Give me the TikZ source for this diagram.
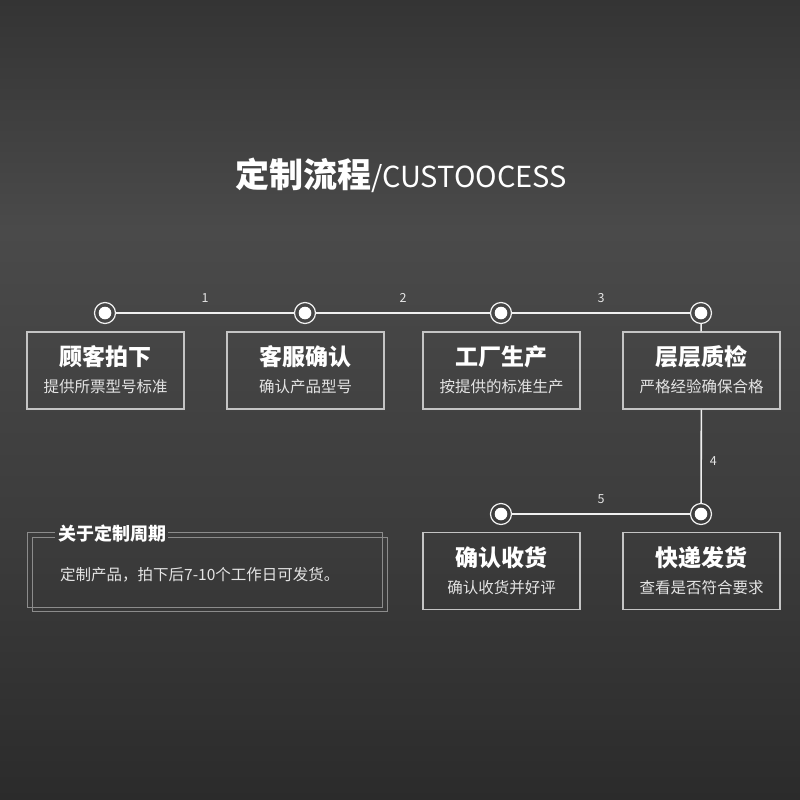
\documentclass[tikz,border=0pt]{standalone}
\usepackage{fontspec}
\setmainfont{Noto Sans CJK SC}
\usetikzlibrary{positioning}

\definecolor{bgtop}{HTML}{343434}
\definecolor{bgmid}{HTML}{4A4A4A}
\definecolor{bglow}{HTML}{3B3B3B}
\definecolor{bgbot}{HTML}{2B2B2B}
\definecolor{boxline}{HTML}{C4C4C4}
\definecolor{noteclr}{HTML}{E4E4E4}
\definecolor{frameclr}{HTML}{8C8C8C}

\begin{document}
\begin{tikzpicture}[x=1pt, y=-1pt, every node/.style={text=white, inner sep=0pt},
	flow/.style={draw=white!94!black, line width=1.6pt},
	dot/.style={circle, draw=white!94!black, line width=1.2pt, minimum size=21pt,
		path picture={\fill[white] (path picture bounding box.center) circle (6.3pt);}},
	stepbox/.style={draw=boxline, line width=1.2pt, minimum width=157pt, minimum height=77pt},
	steptitle/.style={font=\bfseries\fontsize{23}{23}\selectfont},
	stepnote/.style={font=\fontsize{15.5}{15.5}\selectfont, text=noteclr},
	numlabel/.style={font=\fontsize{12.5}{12.5}\selectfont, text=noteclr},
	frame/.style={draw=frameclr, line width=0.9pt}]
	% background
	\useasboundingbox (0,0) rectangle (800,800);
	\shade[top color=bgtop, bottom color=bgmid] (0,0) rectangle (800,230);
	\shade[top color=bgmid, bottom color=bglow] (0,230) rectangle (800,550);
	\shade[top color=bglow, bottom color=bgbot] (0,550) rectangle (800,800);
	% title
	\node[anchor=base] (title) at (401,187) {{\bfseries\fontsize{34}{34}\selectfont 定制流程}{\fontsize{29}{29}\selectfont /CUSTOOCESS}};
	% steps
	\node[dot] (d1) at (105,313) {};
	\node[dot] (d2) at (305,313) {};
	\node[dot] (d3) at (501,313) {};
	\node[dot] (d4) at (701,313) {};
	\node[dot] (d5) at (501,514) {};
	\node[dot] (d6) at (701,514) {};
	\node[stepbox] (b1) at (105.5,370.5) {};
	\node[stepbox] (b2) at (305.5,370.5) {};
	\node[stepbox] (b3) at (501.5,370.5) {};
	\node[stepbox] (b4) at (701.5,370.5) {};
	\node[stepbox] (b5) at (501.5,571) {};
	\node[stepbox] (b6) at (701.5,571) {};
	\node[steptitle] (t1) at ([yshift=13.5pt]b1.center) {顾客拍下};
	\node[stepnote] (s1) at ([yshift=-16.5pt]b1.center) {提供所票型号标准};
	\node[steptitle] (t2) at ([yshift=13.5pt]b2.center) {客服确认};
	\node[stepnote] (s2) at ([yshift=-16.5pt]b2.center) {确认产品型号};
	\node[steptitle] (t3) at ([yshift=13.5pt]b3.center) {工厂生产};
	\node[stepnote] (s3) at ([yshift=-16.5pt]b3.center) {按提供的标准生产};
	\node[steptitle] (t4) at ([yshift=13.5pt]b4.center) {层层质检};
	\node[stepnote] (s4) at ([yshift=-16.5pt]b4.center) {严格经验确保合格};
	\node[steptitle] (t5) at ([yshift=13.5pt]b5.center) {确认收货};
	\node[stepnote] (s5) at ([yshift=-16.5pt]b5.center) {确认收货并好评};
	\node[steptitle] (t6) at ([yshift=13.5pt]b6.center) {快递发货};
	\node[stepnote] (s6) at ([yshift=-16.5pt]b6.center) {查看是否符合要求};
	% connectors
	\draw[flow] (d1) -- node[numlabel, above=10pt] (n1) {1} (d2);
	\draw[flow] (d2) -- node[numlabel, above=10pt] (n2) {2} (d3);
	\draw[flow] (d3) -- node[numlabel, above=10pt] (n3) {3} (d4);
	\draw[flow] (d4) -- (b4);
	\draw[flow] (b4) -- node[numlabel, right=8pt, pos=0.55] (n4) {4} (d6);
	\draw[flow] (d6) -- node[numlabel, above=10pt] (n5) {5} (d5);
	% note
	\node[font=\bfseries\fontsize{18}{18}\selectfont] (info) at (112,534) {关于定制周期};
	\node[anchor=west, font=\fontsize{15.5}{15.5}\selectfont, text=noteclr] (infotext) at (60,575) {定制产品，拍下后7-10个工作日可发货。};
	\draw[frame] (55,532) -- (27,532) -- (27,607) -- (382,607) -- (382,532) -- (168,532);
	\draw[frame] (55,537) -- (32,537) -- (32,611) -- (387,611) -- (387,537) -- (168,537);
\end{tikzpicture}
\end{document}
